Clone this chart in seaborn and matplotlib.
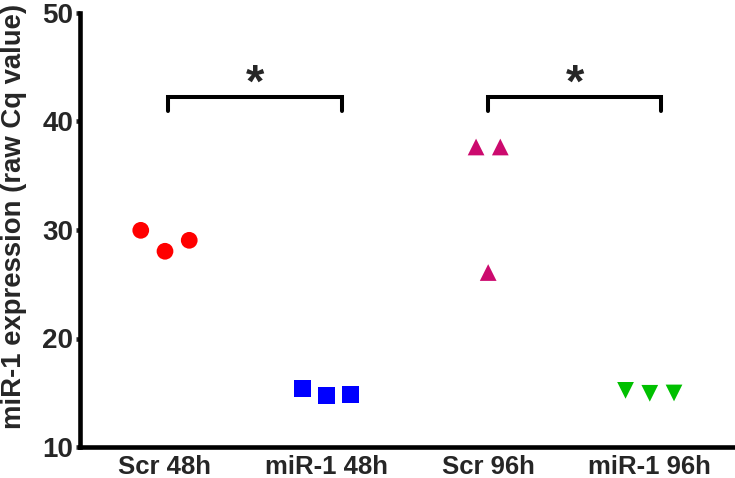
import numpy as np
import pandas as pd
import seaborn as sns
import matplotlib.pyplot as plt

# raw Cq values, three replicates per group
groups = ["Scr 48h", "miR-1 48h", "Scr 96h", "miR-1 96h"]
scr_48h = [29.97, 28.04, 29.05]
mir1_48h = [15.39, 14.76, 14.82]
scr_96h = [37.65, 26.08, 37.65]
mir1_96h = [15.22, 14.95, 14.98]
y_ticks = [10, 20, 30, 40, 50]

# horizontal spread of the replicates inside each column (layout only)
spread = {
    "Scr 48h": [-0.15, 0.0, 0.15],
    "miR-1 48h": [-0.15, 0.0, 0.15],
    "Scr 96h": [-0.075, 0.0, 0.075],
    "miR-1 96h": [-0.15, 0.0, 0.15],
}

values = [scr_48h, mir1_48h, scr_96h, mir1_96h]
rows = []
for i, (g, vals) in enumerate(zip(groups, values)):
    for off, v in zip(spread[g], vals):
        rows.append({"group": g, "pos": i + off, "value": v})
df = pd.DataFrame(rows)

palette = {"Scr 48h": "#FF0000", "miR-1 48h": "#0000FF",
           "Scr 96h": "#CC0A6E", "miR-1 96h": "#00C000"}
markers = {"Scr 48h": "o", "miR-1 48h": "s", "Scr 96h": "^", "miR-1 96h": "v"}

sns.set_style("white")
plt.rcParams["font.family"] = ["Liberation Sans", "DejaVu Sans"]
plt.rcParams["font.weight"] = "bold"

fig = plt.figure(figsize=(7.35, 4.78), dpi=100)
ax = fig.add_axes([80 / 735, 31 / 478, 653 / 735, 434 / 478])

sns.scatterplot(data=df, x="pos", y="value", hue="group", style="group",
                palette=palette, markers=markers, s=145, linewidth=0,
                legend=False, ax=ax)

ax.set_xlim(-0.526, 3.515)
ax.set_ylim(10, 50)
ax.set_xticks(range(len(groups)))
ax.set_xticklabels(groups, fontsize=18.5, fontweight="bold")
ax.set_yticks(y_ticks)
ax.set_yticklabels([str(t) for t in y_ticks], fontsize=20, fontweight="bold")
ax.set_xlabel("")
ax.set_ylabel("miR-1 expression (raw Cq value)", fontsize=19.8,
              fontweight="bold")
ax.yaxis.set_label_coords(-0.081, 0.532)

for side in ["top", "right"]:
    ax.spines[side].set_visible(False)
for side in ["left", "bottom"]:
    ax.spines[side].set_linewidth(3.3)
    ax.spines[side].set_color("black")
ax.tick_params(axis="y", direction="out", length=3, width=3.3, pad=2, left=True)
ax.tick_params(axis="x", length=0, pad=6)

# significance brackets
for x0, x1 in [(0.02, 1.096), (2.0, 3.07)]:
    ax.plot([x0, x0, x1, x1], [41.0, 42.25, 42.25, 41.0], color="black",
            lw=2.9, solid_joinstyle="miter", clip_on=False)
    ax.text((x0 + x1) / 2, 43.4, "*", ha="center", va="center",
            fontsize=34, fontweight="bold")

fig.savefig("out.png", dpi=100)
